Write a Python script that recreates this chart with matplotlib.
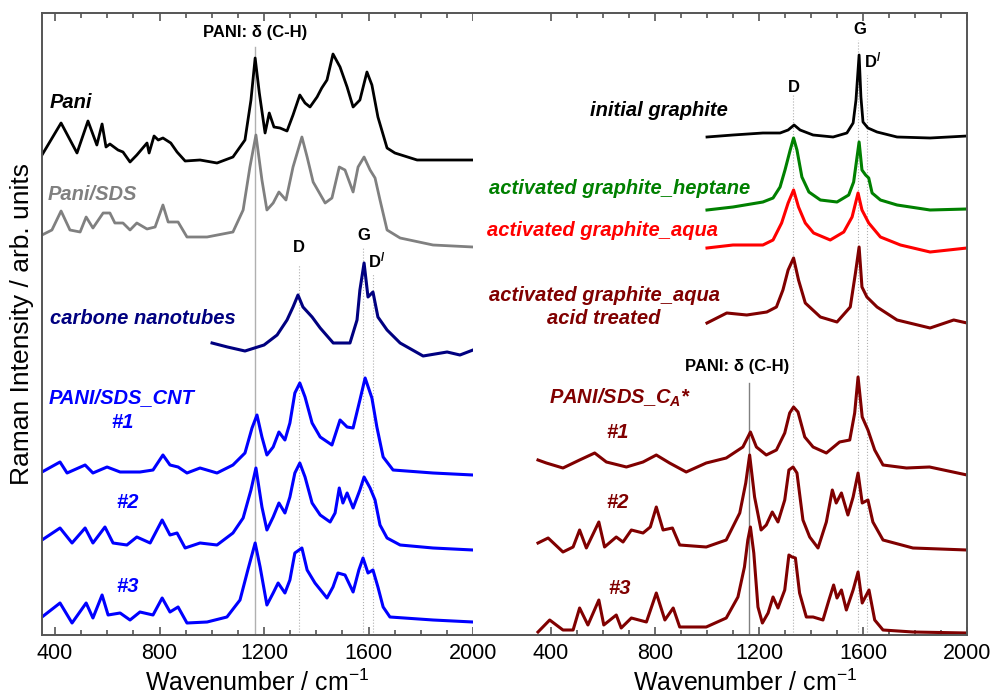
import matplotlib
matplotlib.use('Agg')
import matplotlib.pyplot as plt
from matplotlib.ticker import FixedLocator

plt.rcParams['font.family'] = ['Liberation Sans', 'DejaVu Sans']
plt.rcParams['mathtext.default'] = 'regular'

# ---- left panel spectra (wavenumber, intensity with offset) ----
pani_x = [350, 423, 484, 526, 560, 580, 595, 610, 641, 660, 687, 713, 752, 760, 779, 795, 813, 843, 867, 898,
          955, 1020, 1081, 1127, 1150, 1166, 1182, 1204, 1220, 1238, 1261, 1288, 1311, 1337, 1357, 1376, 1403,
          1421, 1441, 1464, 1491, 1518, 1541, 1567, 1594, 1613, 1636, 1671, 1701, 1786, 1912, 2000]
pani_y = [480, 512, 482, 514, 490, 511, 488, 491, 485, 483, 473, 480, 492, 482, 499, 495, 497, 492, 483, 474,
          475, 472, 478, 495, 535, 577, 542, 502, 522, 508, 507, 504, 520, 540, 532, 528, 538,
          547, 555, 581, 568, 548, 528, 535, 563, 550, 518, 487, 482, 475, 475, 475]

panisds_x = [350, 388, 423, 457, 496, 519, 545, 584, 610, 629, 660, 687, 713, 752, 783, 813, 833, 871, 905,
             982, 1081, 1120, 1146, 1169, 1192, 1211, 1235, 1257, 1284, 1311, 1345, 1365, 1388, 1434, 1460,
             1488, 1510, 1541, 1560, 1583, 1606, 1625, 1644, 1671, 1721, 1847, 2000]
panisds_y = [400, 405, 424, 405, 403, 418, 407, 422, 422, 412, 412, 405, 412, 406, 408, 430, 413, 413, 398,
             398, 403, 425, 468, 500, 455, 425, 432, 443, 435, 468, 498, 478, 453, 432, 437,
             468, 465, 443, 468, 478, 465, 457, 435, 405, 397, 390, 388]

cnt_x = [1001, 1060, 1127, 1200, 1250, 1288, 1311, 1330, 1349, 1384, 1415, 1465, 1529, 1556, 1567, 1583,
         1598, 1617, 1636, 1671, 1721, 1809, 1901, 1950, 2000]
cnt_y = [292, 288, 284, 290, 300, 315, 328, 340, 328, 318, 307, 292, 292, 315, 345, 372,
         338, 343, 318, 305, 292, 279, 283, 280, 285]

cnt1_x = [350, 419, 446, 515, 545, 599, 649, 725, 775, 813, 840, 871, 905, 955, 1020, 1081, 1127, 1154,
          1173, 1192, 1211, 1235, 1257, 1280, 1299, 1318, 1337, 1357, 1384, 1415, 1460, 1491, 1518, 1541,
          1567, 1587, 1613, 1632, 1656, 1694, 1847, 2000]
cnt1_y = [163, 173, 162, 170, 162, 168, 163, 163, 165, 180, 170, 168, 162, 167, 162, 170, 182, 207,
          220, 198, 180, 188, 203, 195, 212, 242, 252, 238, 212, 198, 190, 215, 208, 207,
          235, 257, 237, 208, 178, 165, 162, 160]

cnt2_x = [350, 419, 465, 515, 545, 591, 622, 675, 713, 764, 810, 840, 867, 898, 955, 1020, 1081, 1120,
          1150, 1169, 1192, 1211, 1235, 1257, 1280, 1299, 1318, 1337, 1357, 1384, 1415, 1453, 1472, 1488,
          1502, 1518, 1541, 1567, 1583, 1606, 1625, 1644, 1671, 1721, 1847, 2000]
cnt2_y = [95, 107, 92, 107, 92, 108, 92, 90, 98, 92, 115, 100, 102, 87, 92, 90, 102, 117,
          145, 167, 128, 105, 118, 132, 122, 138, 162, 172, 158, 132, 120, 113, 122, 147,
          132, 142, 127, 145, 158, 147, 135, 110, 97, 90, 87, 85]

cnt3_x = [350, 419, 465, 519, 545, 580, 603, 649, 687, 725, 775, 810, 840, 871, 905, 982, 1058, 1108,
          1138, 1166, 1185, 1211, 1235, 1254, 1280, 1299, 1318, 1345, 1365, 1395, 1441, 1464, 1483, 1510,
          1541, 1563, 1579, 1598, 1617, 1636, 1656, 1682, 1847, 2000]
cnt3_y = [18, 32, 12, 32, 17, 40, 20, 22, 15, 23, 20, 37, 23, 28, 12, 13, 18, 35,
          65, 92, 68, 30, 42, 52, 42, 55, 82, 87, 65, 52, 37, 48, 62, 60,
          43, 65, 77, 62, 65, 48, 28, 18, 15, 13]

# ---- right panel spectra ----
graph_x = [1000, 1100, 1215, 1281, 1312, 1335, 1358, 1408, 1485, 1538, 1562, 1573, 1585, 1592, 1600,
           1619, 1654, 1731, 1858, 2000]
graph_y = [498, 500, 502, 502, 505, 510, 505, 500, 498, 502, 512, 535, 580, 538, 513,
           507, 503, 498, 497, 499]

hept_x = [1000, 1100, 1215, 1254, 1281, 1300, 1320, 1333, 1346, 1365, 1392, 1436, 1500, 1545, 1564,
          1585, 1596, 1610, 1622, 1635, 1667, 1731, 1858, 2000]
hept_y = [425, 428, 433, 437, 448, 465, 485, 497, 485, 458, 443, 435, 433, 440, 453,
          493, 465, 460, 457, 442, 435, 430, 425, 426]

aqua_x = [1000, 1100, 1215, 1254, 1287, 1312, 1333, 1352, 1378, 1410, 1474, 1526, 1558, 1581, 1596,
          1622, 1667, 1744, 1858, 2000]
aqua_y = [387, 390, 390, 395, 412, 432, 445, 428, 412, 402, 395, 403, 418, 442, 425,
          412, 398, 390, 383, 387]

acid_x = [1000, 1076, 1153, 1230, 1267, 1292, 1312, 1333, 1352, 1378, 1436, 1500, 1551, 1571, 1585,
          1596, 1615, 1654, 1731, 1858, 1949, 2000]
acid_y = [312, 322, 320, 323, 328, 345, 365, 377, 355, 332, 318, 313, 328, 362, 388,
          348, 338, 328, 315, 307, 315, 312]

ca1_x = [350, 382, 446, 510, 568, 613, 690, 754, 805, 856, 920, 997, 1074, 1138, 1167, 1190, 1228, 1267,
         1299, 1318, 1333, 1350, 1376, 1408, 1459, 1510, 1549, 1568, 1581, 1597, 1619, 1645, 1677, 1767,
         1856, 1946, 2000]
ca1_y = [175, 172, 167, 175, 182, 173, 168, 173, 180, 172, 163, 172, 177, 188, 203, 188, 180, 185,
         202, 222, 228, 223, 198, 188, 182, 193, 195, 222, 258, 218, 205, 185, 170, 167,
         168, 163, 160]

ca2_x = [350, 389, 446, 485, 510, 536, 584, 606, 651, 677, 709, 754, 782, 805, 831, 867, 895, 997, 1074,
         1126, 1149, 1164, 1183, 1208, 1228, 1251, 1273, 1299, 1315, 1331, 1346, 1369, 1395, 1427, 1459,
         1482, 1497, 1517, 1542, 1562, 1581, 1597, 1619, 1638, 1677, 1792, 2000]
ca2_y = [92, 97, 83, 88, 105, 87, 113, 88, 98, 93, 105, 102, 108, 128, 105, 107, 90, 88, 95,
         122, 152, 180, 138, 105, 110, 123, 113, 135, 165, 168, 162, 115, 98, 87, 113,
         145, 132, 142, 120, 138, 162, 132, 135, 113, 95, 87, 85]

ca3_x = [350, 395, 446, 485, 510, 542, 584, 603, 651, 670, 709, 767, 805, 838, 870, 895, 997, 1074, 1119,
         1144, 1157, 1167, 1180, 1196, 1213, 1235, 1254, 1273, 1299, 1315, 1327, 1340, 1356, 1382, 1408,
         1446, 1469, 1487, 1500, 1517, 1536, 1562, 1581, 1597, 1623, 1645, 1677, 1792, 2000]
ca3_y = [3, 15, 5, 5, 27, 10, 35, 10, 20, 7, 17, 13, 42, 15, 27, 8, 8, 17, 38,
         68, 95, 108, 82, 28, 12, 22, 38, 27, 45, 80, 78, 77, 42, 18, 18,
         15, 35, 50, 37, 45, 25, 45, 63, 32, 45, 15, 5, 3, 2]

# band positions and how high the guide lines reach
left_pani_band = [1166, 588]
left_bands = [1334, 1579, 1617]
left_band_tops = [370, 387, 362]
right_pani_band = [1162, 252]
right_bands = [1331, 1581, 1615]
right_band_tops = [540, 595, 560]

W, H = 991, 695
fig = plt.figure(figsize=(W / 100, H / 100), dpi=100)
bot = 1 - 635 / H
hgt = 622 / H
ax1 = fig.add_axes([42 / W, bot, 431 / W, hgt])
ax2 = fig.add_axes([473 / W, bot, 494 / W, hgt])

spine_c = '#555555'
for ax in (ax1, ax2):
    ax.set_ylim(0, 622)
    ax.set_yticks([])
    ax.xaxis.set_major_locator(FixedLocator([400, 800, 1200, 1600, 2000]))
    ax.xaxis.set_minor_locator(FixedLocator([v for v in range(500, 2000, 100) if v % 400]))
    ax.tick_params(axis='x', which='both', direction='in', top=True, bottom=True, color=spine_c,
                   labelsize=15.5, width=1.2, pad=6)
    ax.tick_params(axis='x', which='major', length=6)
    ax.tick_params(axis='x', which='minor', length=3.5)
    for s in ax.spines.values():
        s.set_color(spine_c)
        s.set_linewidth(1.4)
ax1.set_xlim(350, 2000)
ax2.set_xlim(100, 2000)
ax1.spines['right'].set_visible(False)
ax2.spines['left'].set_visible(False)

# guide lines
ax1.plot([left_pani_band[0]] * 2, [0, left_pani_band[1]], color='#b0b0b0', lw=1.0, zorder=1)
for b, t in zip(left_bands, left_band_tops):
    ax1.plot([b, b], [0, t], color='#b0b0b0', lw=0.8, ls=':', zorder=1)
ax2.plot([right_pani_band[0]] * 2, [0, right_pani_band[1]], color='#808080', lw=1.0, zorder=1)
for b, t in zip(right_bands, right_band_tops):
    ax2.plot([b, b], [0, t], color='#b0b0b0', lw=0.8, ls=':', zorder=1)

# spectra
ax1.plot(pani_x, pani_y, color='black', lw=2.0)
ax1.plot(panisds_x, panisds_y, color='#808080', lw=2.0)
ax1.plot(cnt_x, cnt_y, color='#000080', lw=2.2)
for xs, ys in ((cnt1_x, cnt1_y), (cnt2_x, cnt2_y), (cnt3_x, cnt3_y)):
    ax1.plot(xs, ys, color='#0000ff', lw=2.2)

ax2.plot(graph_x, graph_y, color='black', lw=2.0)
ax2.plot(hept_x, hept_y, color='#008000', lw=2.2)
ax2.plot(aqua_x, aqua_y, color='#ff0000', lw=2.2)
ax2.plot(acid_x, acid_y, color='#800000', lw=2.2)
for xs, ys in ((ca1_x, ca1_y), (ca2_x, ca2_y), (ca3_x, ca3_y)):
    ax2.plot(xs, ys, color='#800000', lw=2.2)

# annotations
bold = dict(fontweight='bold', fontsize=12, ha='center', va='center')
ax1.text(1165, 602, 'PANI: δ (C-H)', **bold)
ax1.text(1334, 388, 'D', **bold)
ax1.text(1583, 400, 'G', **bold)
ax1.text(1633, 375, 'D$^{/}$', **bold)
ax2.text(1588, 605, 'G', **bold)
ax2.text(1638, 575, 'D$^{/}$', **bold)
ax2.text(1335, 547, 'D', **bold)
ax2.text(1115, 268, 'PANI: δ (C-H)', **bold)

lab = dict(fontweight='bold', fontstyle='italic', fontsize=14.5, va='center')
ax1.text(381, 533, 'Pani', color='black', ha='left', **lab)
ax1.text(373, 440, 'Pani/SDS', color='#808080', ha='left', **lab)
ax1.text(381, 316, 'carbone nanotubes', color='#000080', ha='left', **lab)
ax1.text(377, 237, 'PANI/SDS_CNT', color='#0000ff', ha='left', **lab)
ax1.text(660, 212, '#1', color='#0000ff', ha='center', **lab)
ax1.text(679, 133, '#2', color='#0000ff', ha='center', **lab)
ax1.text(679, 48, '#3', color='#0000ff', ha='center', **lab)

ax2.text(1081, 525, 'initial graphite', color='black', ha='right', **lab)
ax2.text(162, 447, 'activated graphite_heptane', color='#008000', ha='left', **lab)
ax2.text(154, 405, 'activated graphite_aqua', color='#ff0000', ha='left', **lab)
ax2.text(604, 328, 'activated graphite_aqua\nacid treated', color='#800000', ha='center',
         multialignment='center', linespacing=1.25, **lab)
ax2.text(392, 237, 'PANI/SDS_C$_A$*', color='#800000', ha='left', **lab)
ax2.text(658, 203, '#1', color='#800000', ha='center', **lab)
ax2.text(658, 132, '#2', color='#800000', ha='center', **lab)
ax2.text(662, 47, '#3', color='#800000', ha='center', **lab)

ax1.set_ylabel('Raman Intensity / arb. units', fontsize=19, va='center')
ax1.yaxis.set_label_coords(-0.047, 0.5)
for ax, cx in ((ax1, 0.5), (ax2, 0.55)):
    ax.set_xlabel('Wavenumber / cm$^{-1}$', fontsize=18, va='center')
    ax.xaxis.set_label_coords(cx, -0.077)

fig.savefig('out.png', dpi=100)
